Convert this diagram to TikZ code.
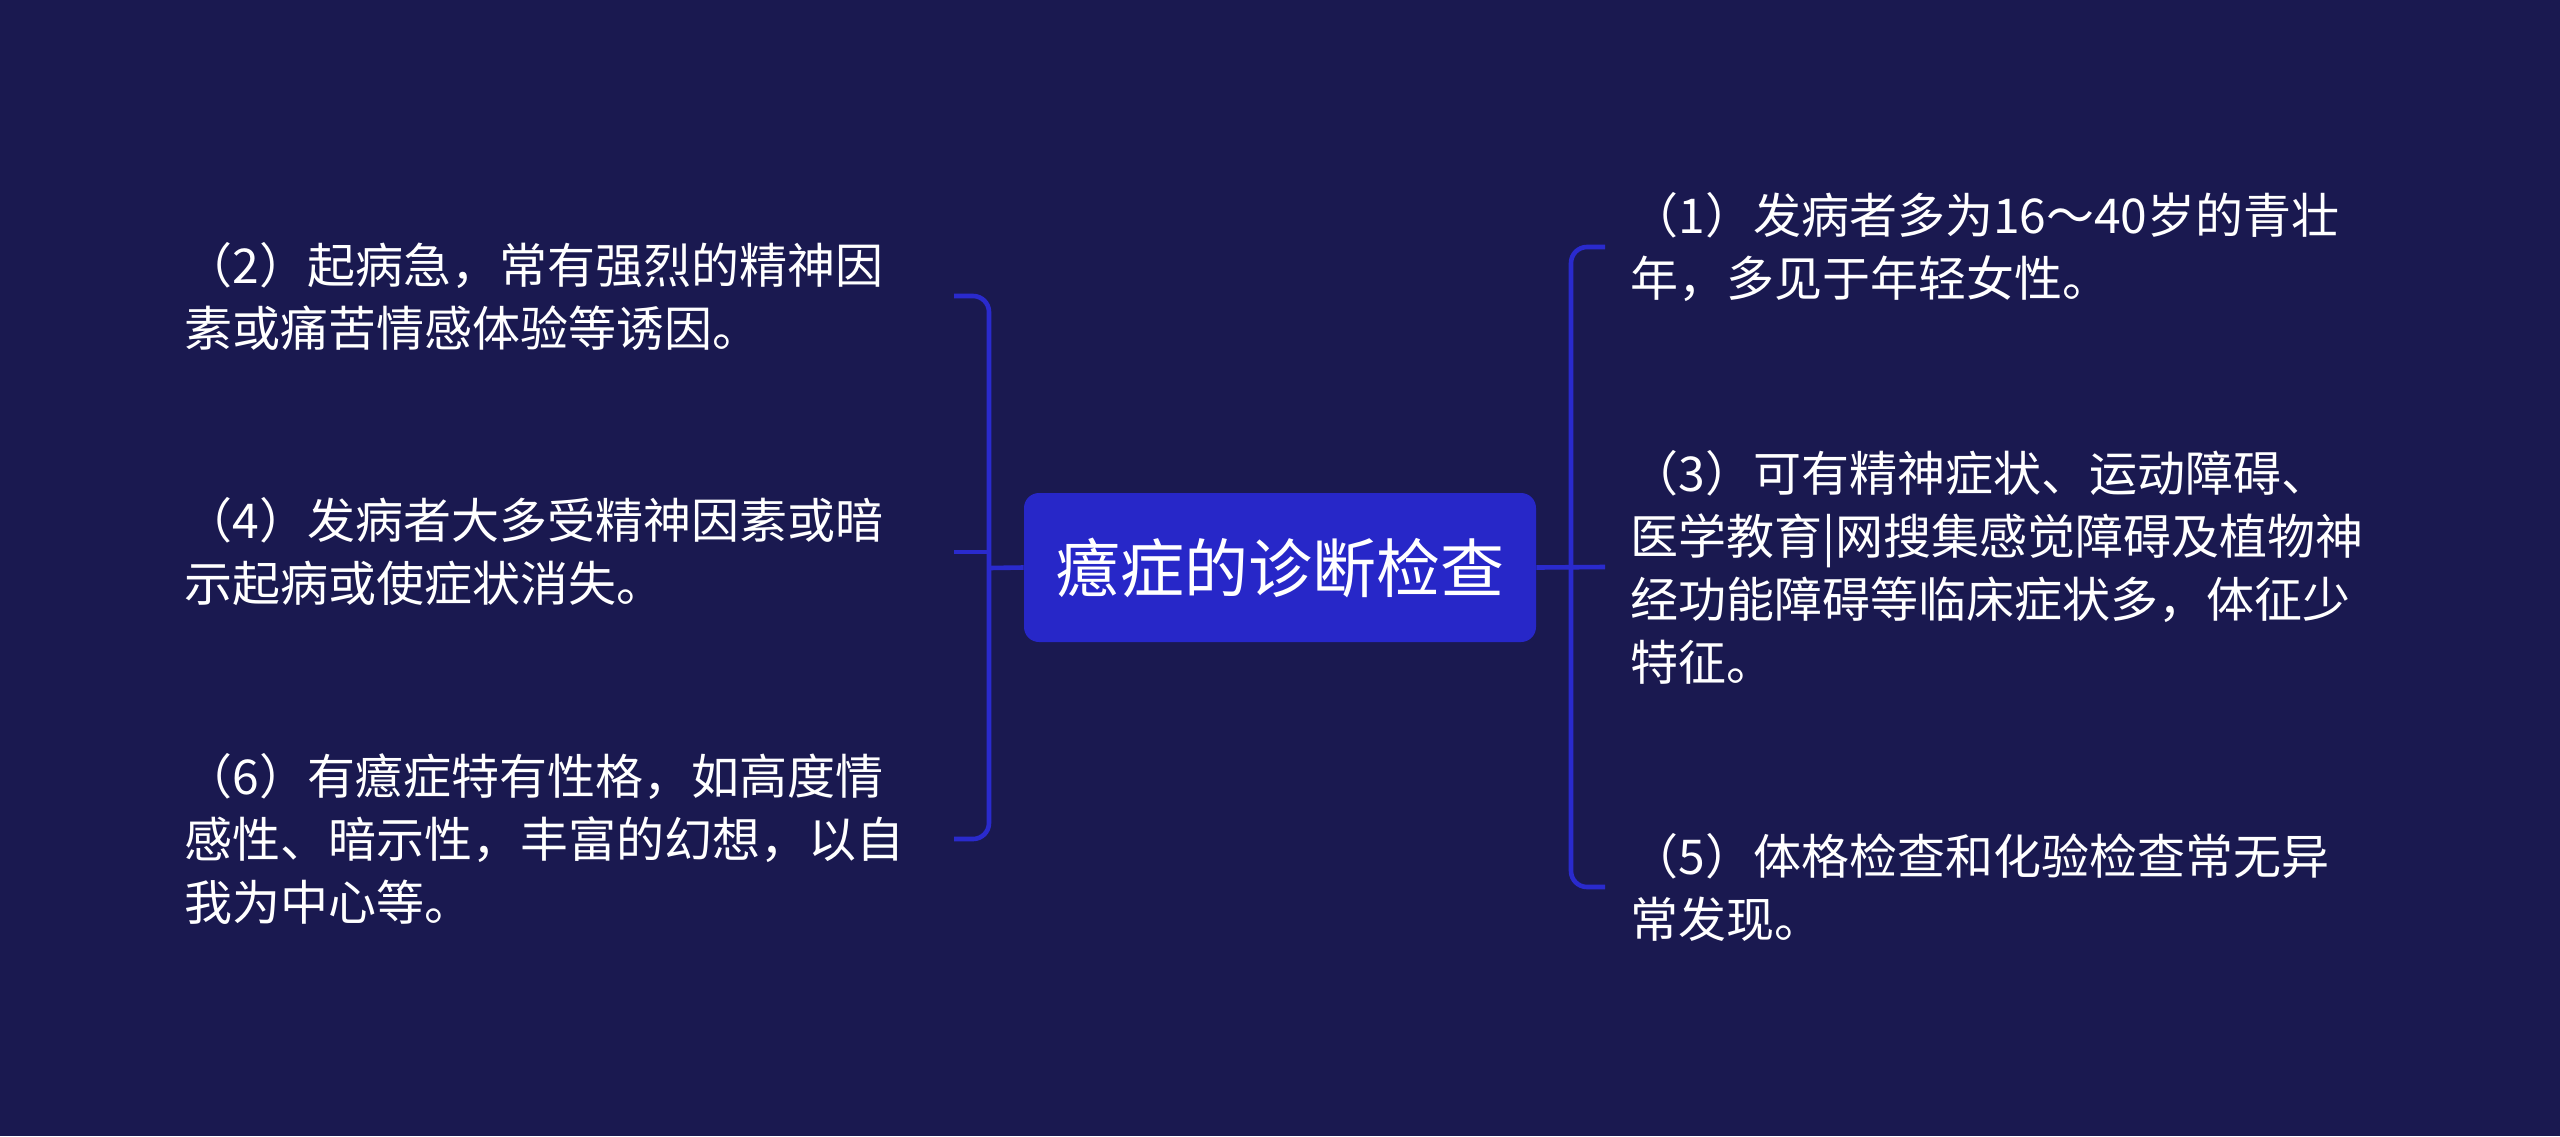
\documentclass[tikz,border=0pt]{standalone}
\usepackage{fontspec}
\setmainfont{Noto Sans CJK SC}
\usetikzlibrary{calc}
\definecolor{bgc}{RGB}{26,25,80}
\definecolor{boxc}{RGB}{39,39,200}
\definecolor{linec}{RGB}{42,42,205}
\tikzset{
  rootbox/.style={fill=boxc, rounded corners=7.5pt, minimum width=256pt, minimum height=74.5pt, text=white, font=\fontsize{32}{38}\selectfont, inner sep=0pt},
  leafl/.style={anchor=east, align=left, text=white, text width=372pt, inner xsep=12.5pt, inner ysep=0pt, font=\fontsize{24}{31.5}\selectfont},
  leafr/.style={anchor=west, align=left, text=white, text width=400pt, inner xsep=12.5pt, inner ysep=0pt, font=\fontsize{24}{31.5}\selectfont},
  conn/.style={draw=linec, line width=2.3pt},
}
\begin{document}
\begin{tikzpicture}[x=0.5pt,y=-0.5pt]
\useasboundingbox (0,0) rectangle (2560,1136);
\fill[bgc] (0,0) rectangle (2560,1136);
\node[rootbox] (root) at (1280,567.5) {癔症的诊断检查};
\coordinate (lj) at (989,568);
\coordinate (rj) at (1571,568);
\node[leafl] (n2) at (954,296) {（2）起病急，常有强烈的精神因\\素或痛苦情感体验等诱因。};
\node[leafl] (n4) at (954,552) {（4）发病者大多受精神因素或暗\\示起病或使症状消失。};
\node[leafl] (n6) at (954,839) {（6）有癔症特有性格，如高度情\\感性、暗示性，丰富的幻想，以自\\我为中心等。};
\node[leafr] (n1) at (1605,247) {（1）发病者多为16～40岁的青壮\\年，多见于年轻女性。};
\node[leafr] (n3) at (1605,567) {（3）可有精神症状、运动障碍、\\医学教育|网搜集感觉障碍及植物神\\经功能障碍等临床症状多，体征少\\特征。};
\node[leafr] (n5) at (1605,887) {（5）体格检查和化验检查常无异\\常发现。};
\draw[conn] (root.west) -- (lj);
\draw[conn, rounded corners=8pt] (n2.east) -| (lj) |- (n6.east);
\draw[conn] (n4.east) -- (n4.east -| lj);
\draw[conn] (root.east) -- (n3.west);
\draw[conn, rounded corners=8pt] (n1.west) -| (rj) |- (n5.west);
\end{tikzpicture}
\end{document}
